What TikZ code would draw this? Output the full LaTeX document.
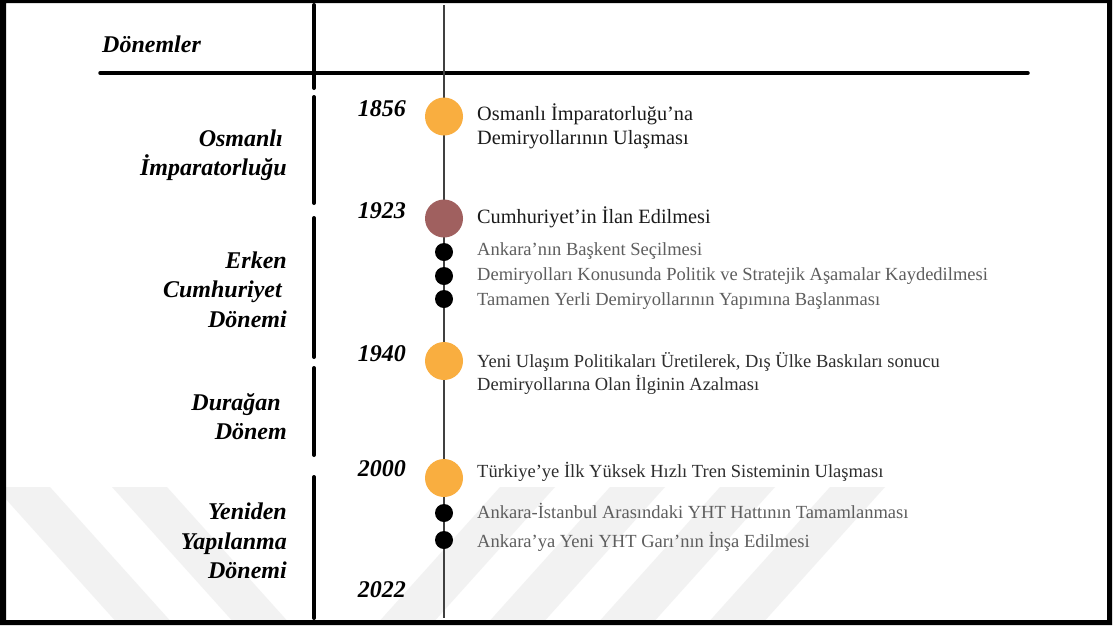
\documentclass[tikz,border=0pt]{standalone}
\usepackage{fontspec}
\setmainfont{Liberation Serif}
\definecolor{dotorange}{HTML}{F9AE40}
\definecolor{dotmaroon}{HTML}{A0605F}
\definecolor{maintext}{HTML}{1A1A1A}
\definecolor{midtext}{HTML}{2E2E2E}
\definecolor{subtext}{HTML}{5E5E5E}
\definecolor{linegray}{HTML}{404040}
\definecolor{wmgray}{HTML}{F2F2F2}
\begin{document}
\begin{tikzpicture}[x=1pt,y=-1pt,
  lbl/.style={font=\fontsize{24}{24}\selectfont\bfseries\itshape, inner sep=0pt, anchor=base east, text=black},
  mtxt/.style={font=\fontsize{20.3}{20}\selectfont, text=maintext, inner sep=0pt, anchor=base west},
  ntxt/.style={font=\fontsize{18.5}{18}\selectfont, text=midtext, inner sep=0pt, anchor=base west},
  stxt/.style={font=\fontsize{18.5}{18}\selectfont, text=subtext, inner sep=0pt, anchor=base west},
  bigdot/.style={circle, minimum size=38pt, inner sep=0pt, fill=#1},
  smalldot/.style={circle, minimum size=18pt, inner sep=0pt, fill=black},
  divider/.style={line width=4pt, line cap=round, black},
  wmband/.style={fill=wmgray, draw=none}
 ]
% page
\fill[white] (0,0) rectangle (1116,625);
\useasboundingbox (0,0) rectangle (1116,625);
% watermark
\begin{scope}
\clip (6,3) rectangle (1107,620);
\foreach \a in {-5,112}{
  \fill[wmband] (\a,487) -- (\a+55,487) -- (\a+179,625) -- (\a+124,625) -- cycle;
}
\foreach \b in {500,610,720,830}{
  \fill[wmband] (\b,487) -- (\b+55,487) -- (\b-69,625) -- (\b-124,625) -- cycle;
}
\end{scope}
% frame
\fill[black, even odd rule] (0,0) rectangle (1112,625) (6,3) rectangle (1107,620);
% header
\node[lbl, anchor=base west] (hdr) at (102,52) {Dönemler};
\coordinate (hl) at (100,73);
\coordinate (hr) at (1028,73);
\draw[line width=3.5pt, line cap=round] (hl) -- (hr);
% dividers
\coordinate (d1a) at (314,5);   \coordinate (d1b) at (314,88);
\coordinate (d2a) at (314,97);  \coordinate (d2b) at (314,203);
\coordinate (d3a) at (314,218); \coordinate (d3b) at (314,357);
\coordinate (d4a) at (314,368); \coordinate (d4b) at (314,455);
\coordinate (d5a) at (314,477); \coordinate (d5b) at (314,618);
\draw[divider] (d1a) -- (d1b);
\draw[divider] (d2a) -- (d2b);
\draw[divider] (d3a) -- (d3b);
\draw[divider] (d4a) -- (d4b);
\draw[divider] (d5a) -- (d5b);
% timeline
\coordinate (tltop) at (444,5);
\coordinate (tlbot) at (444,618);
\draw[line width=2pt, linegray] (tltop) -- (tlbot);
% dots
\node[bigdot=dotorange] (e1856) at (444,116.5) {};
\node[bigdot=dotmaroon] (e1923) at (444,218.5) {};
\node[smalldot] (s1) at (444,252) {};
\node[smalldot] (s2) at (444,276) {};
\node[smalldot] (s3) at (444,299) {};
\node[bigdot=dotorange] (e1940) at (444,361) {};
\node[bigdot=dotorange] (e2000) at (444,478) {};
\node[smalldot] (s4) at (444,513) {};
\node[smalldot] (s5) at (444,540) {};
% years
\node[lbl] (y1856) at (406,116) {1856};
\node[lbl] (y1923) at (406,218) {1923};
\node[lbl] (y1940) at (406,361) {1940};
\node[lbl] (y2000) at (406,476) {2000};
\node[lbl] (y2022) at (406,597) {2022};
% periods
\node[lbl] (p1a) at (283,146) {Osmanlı};
\node[lbl] (p1b) at (287,175) {İmparatorluğu};
\node[lbl] (p2a) at (287,268) {Erken};
\node[lbl] (p2b) at (282,297) {Cumhuriyet};
\node[lbl] (p2c) at (287,327) {Dönemi};
\node[lbl] (p3a) at (281,410) {Durağan};
\node[lbl] (p3b) at (287,439) {Dönem};
\node[lbl] (p4a) at (287,519) {Yeniden};
\node[lbl] (p4b) at (287,549) {Yapılanma};
\node[lbl] (p4c) at (287,578) {Dönemi};
% events
\node[mtxt] (t1a) at (477,120) {Osmanlı İmparatorluğu’na};
\node[mtxt] (t1b) at (477,144) {Demiryollarının Ulaşması};
\node[mtxt] (t2) at (477,223) {Cumhuriyet’in İlan Edilmesi};
\node[stxt] (t3) at (477,255) {Ankara’nın Başkent Seçilmesi};
\node[stxt] (t4) at (477,280) {Demiryolları Konusunda Politik ve Stratejik Aşamalar Kaydedilmesi};
\node[stxt] (t5) at (477,305) {Tamamen Yerli Demiryollarının Yapımına Başlanması};
\node[ntxt] (t6a) at (477,367) {Yeni Ulaşım Politikaları Üretilerek, Dış Ülke Baskıları sonucu};
\node[ntxt] (t6b) at (477,390) {Demiryollarına Olan İlginin Azalması};
\node[ntxt] (t7) at (477,477) {Türkiye’ye İlk Yüksek Hızlı Tren Sisteminin Ulaşması};
\node[stxt] (t8) at (477,518) {Ankara-İstanbul Arasındaki YHT Hattının Tamamlanması};
\node[stxt] (t9) at (477,547) {Ankara’ya Yeni YHT Garı’nın İnşa Edilmesi};
\end{tikzpicture}
\end{document}
